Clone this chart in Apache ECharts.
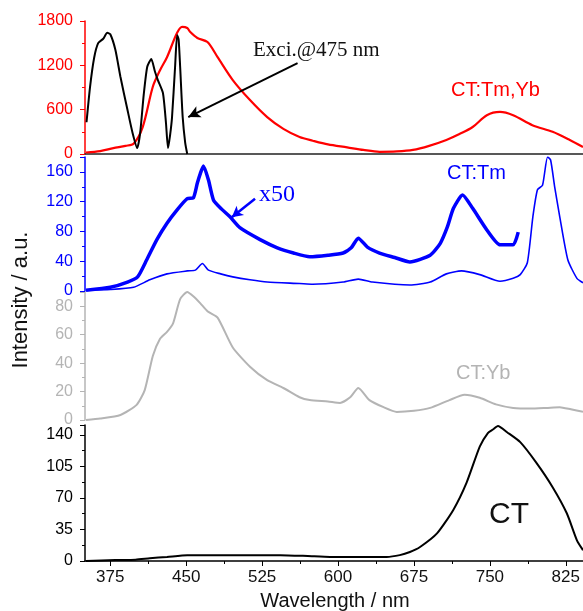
<!DOCTYPE html>
<html>
<head>
<meta charset="utf-8">
<script src="https://cdn.jsdelivr.net/npm/echarts@6/dist/echarts.min.js"></script>
<style>html,body{margin:0;padding:0;background:#fff}#c{width:583px;height:611px}</style>
</head>
<body>
<div id="c"></div>
<script>
// ---------- data ----------
const xMajorTicks = [375, 450, 525, 600, 675, 750, 825];
const xMinorTicks = [412.5, 487.5, 562.5, 637.5, 712.5, 787.5];

// CT:Tm,Yb emission (red, panel 1)
const tmybWl  = [351, 365, 378, 390, 398, 407, 417, 424, 431, 441, 446, 451, 454, 461, 471, 481, 496, 513, 530, 546, 562, 575, 590, 609, 625, 641, 658, 674, 690, 707, 720, 733, 747, 760, 773, 792, 812, 829, 842];
const tmybVal = [20, 40, 80, 110, 140, 365, 910, 1130, 1310, 1640, 1720, 1705, 1650, 1570, 1515, 1310, 1000, 730, 500, 340, 230, 180, 130, 90, 55, 30, 35, 55, 110, 190, 270, 365, 525, 570, 525, 390, 300, 190, 95];

// Excitation spectrum @475 nm (black, panel 1)
const exciWl  = [351.5, 355, 359, 363, 368, 372, 375, 380, 385, 392, 397, 401.6, 404.5, 408, 411.5, 415.5, 419, 422, 427, 430, 432, 434, 436, 439, 441, 442.5, 444, 446.5, 449, 451];
const exciVal = [430, 910, 1300, 1500, 1560, 1640, 1620, 1410, 1045, 595, 285, 80, 285, 800, 1180, 1285, 1120, 1000, 825, 420, 80, 250, 500, 1180, 1610, 1550, 1180, 500, 150, 0];

// CT:Tm x50 (blue thick, panel 2)
const tm50Wl  = [351, 375, 392, 402, 411, 421, 431, 441, 451, 457, 461, 464, 467, 472, 477, 485, 493, 503, 523, 540, 556, 572, 590, 605, 613, 620, 629, 641, 656, 671, 691, 701, 708, 714, 723, 733, 747, 760, 773, 778];
const tm50Val = [1, 5, 12, 19, 42, 69, 91, 109, 124, 125, 145, 158, 168, 149, 122, 110, 100, 85, 69, 58, 51, 46, 48, 51, 58, 71, 59, 51, 45, 39, 48, 64, 86, 111, 129, 111, 82, 62, 62, 79];

// CT:Tm (blue thin, panel 2)
const tmWl  = [351, 375, 398, 414, 431, 451, 459, 466, 472, 484, 496, 513, 530, 562, 575, 605, 620, 634, 671, 691, 707, 722, 740, 760, 773, 780, 787, 792.5, 797, 802, 807, 810, 814, 819, 827, 836, 842];
const tmVal = [1, 2, 5, 15, 23, 27, 28, 37, 28, 23, 19, 15, 12, 10, 9, 12, 16, 12, 8, 12, 23, 27, 22, 13, 17, 22, 38, 100, 136, 142, 180, 176, 140, 100, 42, 17, 11];

// CT:Yb (grey, panel 3)
const ybWl  = [351, 365, 385, 401, 409, 417, 424, 431, 437, 444, 451, 457, 464, 471, 481, 496, 513, 530, 546, 562, 572, 590, 602, 612, 620, 631, 645, 658, 675, 691, 710, 725, 740, 756, 773, 790, 806, 819, 830, 842];
const ybVal = [0, 1, 3.5, 10.6, 21, 45, 57, 62, 68, 85, 90, 87, 82, 76.5, 72, 51, 37.5, 28, 22.5, 16, 14, 13, 12, 16, 22.5, 14, 9, 5.7, 6.5, 8.5, 14, 17.7, 15.6, 11, 8.5, 8, 8.5, 9, 7.5, 5.7];

// CT (black, panel 4)
const ctWl  = [351, 380, 400, 414, 431, 451, 480, 520, 543, 570, 592, 620, 648, 661, 671, 681, 698, 714, 727, 740, 748, 753, 758, 767, 780, 796, 812, 826, 836, 842];
const ctVal = [0, 1, 1.5, 3, 4.5, 6.5, 6.5, 6.5, 6.5, 5.5, 4.5, 4.5, 4.5, 6.5, 10, 15.6, 31, 57, 87, 127, 142, 146, 150, 143, 132, 109, 82, 53, 23, 12];

// annotation arrows (data coordinates)
const exciArrow = [[560, 1230], [452, 500]];
const x50Arrow  = [[518, 124], [495, 99]];

// ---------- chart ----------
const pair = (xs, ys) => xs.map((x, i) => [x, ys[i]]);
const RED = '#ff0000', BLUE = '#0000ff', GREY = '#b4b4b4', BLACK = '#000000';
const FONT = 'Arial, "Liberation Sans", sans-serif';
const SERIF = '"Liberation Serif", "Times New Roman", serif';
const XMIN = 350, XMAX = 842;

const grids = [
  {left: 85, right: 0, top: 21, height: 133},
  {left: 85, right: 0, top: 157, height: 134},
  {left: 85, right: 0, top: 292, height: 128},
  {left: 85, right: 0, top: 425, height: 136}
];

function yAx(gi, max, interval, color, showMax) {
  return {
    type: 'value', gridIndex: gi, min: 0, max: max, interval: interval,
    axisLine: {show: true, lineStyle: {color: color, width: 1.5}},
    axisTick: {show: true, length: 5, lineStyle: {color: color}},
    minorTick: {show: true, splitNumber: 2, length: 3, lineStyle: {color: color}},
    splitLine: {show: false},
    axisLabel: {color: color, fontSize: 16, fontFamily: FONT, margin: 12, showMaxLabel: showMax,
                formatter: v => String(v)}
  };
}

const option = {
  animation: false,
  backgroundColor: '#fff',
  grid: grids,
  xAxis: [
    {type: 'value', gridIndex: 0, min: XMIN, max: XMAX, position: 'top',
     axisLine: {show: true, lineStyle: {color: '#222', width: 1.5}},
     axisTick: {show: false}, axisLabel: {show: false}, splitLine: {show: false}},
    {type: 'value', gridIndex: 1, min: XMIN, max: XMAX, show: false},
    {type: 'value', gridIndex: 2, min: XMIN, max: XMAX, show: false},
    {type: 'value', gridIndex: 3, min: XMIN, max: XMAX, position: 'bottom',
     axisLine: {show: true, lineStyle: {color: BLACK, width: 1.5}},
     axisTick: {show: true, length: 5, customValues: xMajorTicks, lineStyle: {color: BLACK}},
     axisLabel: {show: true, customValues: xMajorTicks, color: '#111', fontSize: 17, fontFamily: FONT, margin: 8},
     splitLine: {show: false}},
    {type: 'value', gridIndex: 3, min: XMIN, max: XMAX, position: 'bottom',
     axisLine: {show: false},
     axisTick: {show: true, length: 3, customValues: xMinorTicks, lineStyle: {color: BLACK}},
     axisLabel: {show: false}, splitLine: {show: false}}
  ],
  yAxis: [
    yAx(0, 1800, 600, RED, true),
    yAx(1, 180, 40, BLUE, false),
    yAx(2, 90, 20, GREY, false),
    yAx(3, 151, 35, BLACK, false)
  ],
  series: [
    {type: 'line', name: 'CT:Tm,Yb', xAxisIndex: 0, yAxisIndex: 0, data: pair(tmybWl, tmybVal),
     showSymbol: false, smooth: 0.3, lineStyle: {color: RED, width: 2.2}, z: 2},
    {type: 'line', name: 'Exci.@475 nm', xAxisIndex: 0, yAxisIndex: 0, data: pair(exciWl, exciVal),
     showSymbol: false, smooth: 0.2, lineStyle: {color: BLACK, width: 2}, z: 3,
     markLine: {silent: true, symbol: ['none', 'arrow'], symbolSize: [9, 12], label: {show: false},
       lineStyle: {color: BLACK, width: 2, type: 'solid'}, animation: false,
       data: [[{coord: exciArrow[0]}, {coord: exciArrow[1]}]]}},
    {type: 'line', name: 'CT:Tm x50', xAxisIndex: 1, yAxisIndex: 1, data: pair(tm50Wl, tm50Val),
     showSymbol: false, smooth: 0.2, lineStyle: {color: BLUE, width: 3.5}, z: 3,
     markLine: {silent: true, symbol: ['none', 'arrow'], symbolSize: [9, 11], label: {show: false},
       lineStyle: {color: BLUE, width: 2.5, type: 'solid'}, animation: false,
       data: [[{coord: x50Arrow[0]}, {coord: x50Arrow[1]}]]}},
    {type: 'line', name: 'CT:Tm', xAxisIndex: 1, yAxisIndex: 1, data: pair(tmWl, tmVal),
     showSymbol: false, smooth: 0.2, lineStyle: {color: BLUE, width: 1.6}, z: 2},
    {type: 'line', name: 'CT:Yb', xAxisIndex: 2, yAxisIndex: 2, data: pair(ybWl, ybVal),
     showSymbol: false, smooth: 0.2, lineStyle: {color: GREY, width: 2}, z: 2},
    {type: 'line', name: 'CT', xAxisIndex: 3, yAxisIndex: 3, data: pair(ctWl, ctVal),
     showSymbol: false, smooth: 0.2, lineStyle: {color: BLACK, width: 2}, z: 2}
  ],
  graphic: [
    {type: 'text', left: 253, top: 40, style: {text: 'Exci.@475 nm', font: '21px ' + SERIF, fill: '#111'}},
    {type: 'text', left: 451, top: 80, style: {text: 'CT:Tm,Yb', font: '20px ' + FONT, fill: RED}},
    {type: 'text', left: 447, top: 163, style: {text: 'CT:Tm', font: '20px ' + FONT, fill: BLUE}},
    {type: 'text', left: 259, top: 183, style: {text: 'x50', font: '24px ' + SERIF, fill: BLUE}},
    {type: 'text', left: 456, top: 363, style: {text: 'CT:Yb', font: '20px ' + FONT, fill: GREY}},
    {type: 'text', left: 489, top: 500, style: {text: 'CT', font: '30px ' + FONT, fill: '#111'}},
    {type: 'text', x: 21, y: 300, rotation: Math.PI / 2,
     style: {text: 'Intensity / a.u.', font: '22px ' + FONT, fill: '#111', align: 'center', verticalAlign: 'middle'}},
    {type: 'text', x: 335, y: 601,
     style: {text: 'Wavelength / nm', font: '20px ' + FONT, fill: '#111', align: 'center', verticalAlign: 'middle'}}
  ]
};

const chart = echarts.init(document.getElementById('c'), null, {renderer: 'canvas', width: 583, height: 611});
chart.setOption(option);
</script>
</body>
</html>
